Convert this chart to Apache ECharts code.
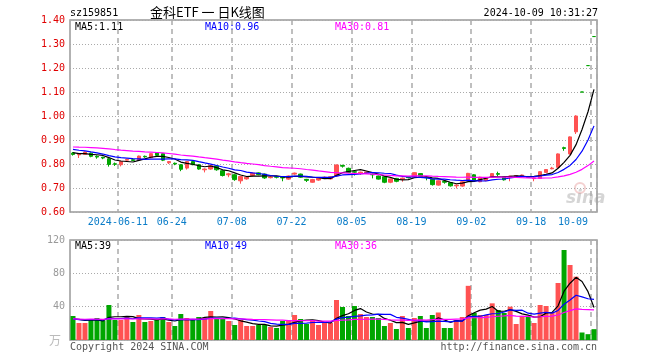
<!DOCTYPE html>
<html><head><meta charset="utf-8">
<script src="https://cdn.jsdelivr.net/npm/echarts@6/dist/echarts.min.js"></script>
<style>html,body{margin:0;padding:0;background:#fff}#c{width:660px;height:360px}</style>
</head><body><div id="c"></div>
<script>
// ---------- data ----------
const dates = [
'2024-05-29','2024-05-30','2024-05-31',
'2024-06-03','2024-06-04','2024-06-05','2024-06-06','2024-06-07','2024-06-11','2024-06-12','2024-06-13','2024-06-14',
'2024-06-17','2024-06-18','2024-06-19','2024-06-20','2024-06-21','2024-06-24','2024-06-25','2024-06-26','2024-06-27','2024-06-28',
'2024-07-01','2024-07-02','2024-07-03','2024-07-04','2024-07-05','2024-07-08','2024-07-09','2024-07-10','2024-07-11','2024-07-12',
'2024-07-15','2024-07-16','2024-07-17','2024-07-18','2024-07-19','2024-07-22','2024-07-23','2024-07-24','2024-07-25','2024-07-26',
'2024-07-29','2024-07-30','2024-07-31','2024-08-01','2024-08-02','2024-08-05','2024-08-06','2024-08-07','2024-08-08','2024-08-09',
'2024-08-12','2024-08-13','2024-08-14','2024-08-15','2024-08-16','2024-08-19','2024-08-20','2024-08-21','2024-08-22','2024-08-23',
'2024-08-26','2024-08-27','2024-08-28','2024-08-29','2024-08-30','2024-09-02','2024-09-03','2024-09-04','2024-09-05','2024-09-06',
'2024-09-09','2024-09-10','2024-09-11','2024-09-12','2024-09-13','2024-09-18','2024-09-19','2024-09-20','2024-09-23','2024-09-24',
'2024-09-25','2024-09-26','2024-09-27','2024-09-30','2024-10-08','2024-10-09'];

const opens = [0.845,0.838,0.840,0.845,0.832,0.828,0.822,0.801,0.797,0.816,0.818,0.817,0.832,0.826,0.847,0.843,0.805,0.803,0.797,0.783,0.810,0.797,0.776,0.779,0.792,0.772,0.755,0.755,0.730,0.738,0.752,0.763,0.758,0.743,0.747,0.745,0.737,0.758,0.758,0.736,0.724,0.733,0.742,0.738,
0.750,0.794,0.782,0.768,0.763,0.763,0.757,0.750,0.747,0.724,0.740,0.737,0.746,0.745,0.760,0.745,0.736,0.712,0.727,0.722,0.709,0.708,0.730,0.755,0.726,0.731,0.745,0.760,0.747,0.745,0.749,0.751,0.748,0.739,0.740,0.765,0.780,0.786,0.868,0.842,0.934,1.100,1.210,1.331];
const closes = [0.840,0.842,0.850,0.832,0.829,0.825,0.798,0.799,0.811,0.819,0.815,0.833,0.830,0.843,0.836,0.816,0.810,0.800,0.778,0.810,0.797,0.779,0.779,0.793,0.776,0.752,0.759,0.735,0.748,0.745,0.762,0.756,0.742,0.746,0.745,0.742,0.750,0.762,0.745,0.732,0.735,0.740,0.745,0.747,
0.796,0.791,0.765,0.766,0.766,0.767,0.755,0.737,0.724,0.738,0.728,0.741,0.743,0.764,0.748,0.743,0.714,0.730,0.724,0.709,0.712,0.726,0.761,0.731,0.745,0.740,0.760,0.757,0.734,0.750,0.752,0.754,0.744,0.742,0.768,0.777,0.783,0.842,0.865,0.913,1.000,1.100,1.210,1.331];
const lows = [0.835,0.825,0.838,0.828,0.822,0.820,0.789,0.792,0.790,0.814,0.812,0.815,0.826,0.824,0.833,0.812,0.800,0.795,0.770,0.777,0.795,0.776,0.765,0.776,0.772,0.748,0.745,0.730,0.718,0.735,0.748,0.753,0.738,0.740,0.740,0.728,0.734,0.755,0.742,0.725,0.722,0.730,0.738,0.735,
0.748,0.785,0.762,0.752,0.755,0.760,0.740,0.735,0.720,0.720,0.724,0.726,0.740,0.742,0.745,0.732,0.710,0.710,0.718,0.706,0.698,0.705,0.728,0.728,0.724,0.728,0.743,0.748,0.731,0.728,0.747,0.745,0.742,0.728,0.738,0.763,0.778,0.784,0.855,0.840,0.925,1.100,1.210,1.331];
const highs = [0.850,0.845,0.852,0.848,0.836,0.830,0.824,0.806,0.813,0.822,0.820,0.835,0.835,0.845,0.850,0.846,0.812,0.806,0.799,0.812,0.812,0.800,0.782,0.796,0.795,0.774,0.763,0.758,0.750,0.748,0.764,0.765,0.760,0.750,0.750,0.747,0.752,0.764,0.760,0.738,0.738,0.742,0.748,0.749,
0.798,0.797,0.785,0.772,0.768,0.769,0.760,0.752,0.750,0.740,0.742,0.744,0.748,0.766,0.762,0.748,0.738,0.732,0.730,0.724,0.715,0.728,0.763,0.758,0.747,0.742,0.762,0.768,0.749,0.752,0.754,0.756,0.750,0.744,0.770,0.779,0.788,0.844,0.872,0.915,1.003,1.100,1.210,1.331];
// volume, 万
const volumes = [28.8,20.4,20.4,24,26.4,23.2,42,24,24,28.8,21.6,30,21.6,22.8,25.2,27.6,21.6,16.8,31.2,26.4,24,27.6,26.4,34.8,25.2,25.2,22.8,18,24,16.8,16.8,18,18,15.6,14.4,22.8,22.8,30,25.2,19.2,24,18,20.4,20.4,
48,39.6,28.8,40.8,31.2,27.6,27.6,26.4,16.8,20.4,13.2,28.8,14.4,26.4,28.8,14.4,30,33,14.4,14.4,24,27.6,65,32.4,30,30,44,36,32.4,40,19.2,29,29,20.4,42,40.8,33.6,68.4,108,90,76,9,7,13];
// history before the visible window (used only for the moving averages)
const priorCloses = [0.862,0.866,0.870,0.872,0.868,0.875,0.880,0.884,0.878,0.872,0.876,0.882,0.886,0.880,0.874,0.878,0.884,0.880,0.876,0.872,0.880,0.874,0.878,0.872,0.870,0.862,0.852,0.845,0.838];
const priorVolumes = [24,28,22,26,30,25,21,27,24,29,23,26,25,28,22,24,27,25,23,26,28,24,22,25,27,24,26,23,25];
// tick labels on the time axis
const labelDates = ['2024-06-11','2024-06-24','2024-07-08','2024-07-22','2024-08-05','2024-08-19','2024-09-02','2024-09-18','2024-10-09'];
const priceTicks = [0.6, 1.4, 0.1];   // min, max, step
const volTicks = [0, 120, 40];

// ---------- derived ----------
function movingAvg(vals, prior, n) {
  const all = prior.concat(vals), off = prior.length;
  return vals.map((_, i) => { let s = 0; for (let k = 0; k < n; k++) s += all[off + i - k]; return +(s / n).toFixed(4); });
}
const ma5 = movingAvg(closes, priorCloses, 5), ma10 = movingAvg(closes, priorCloses, 10), ma30 = movingAvg(closes, priorCloses, 30);
const vma5 = movingAvg(volumes, priorVolumes, 5), vma10 = movingAvg(volumes, priorVolumes, 10), vma30 = movingAvg(volumes, priorVolumes, 30);
const last = dates.length - 1;

const UP = '#ff5252', DOWN = '#00a600';
const mono = 'DejaVu Sans Mono';
const labelIdx = labelDates.map(d => dates.indexOf(d));
const showIdx = i => labelIdx.indexOf(i) >= 0;
const candleData = dates.map((d, i) => {
  const it = { value: [opens[i], closes[i], lows[i], highs[i]] };
  if (opens[i] === closes[i]) it.itemStyle = { color: DOWN, color0: DOWN, borderColor: DOWN, borderColor0: DOWN };
  return it;
});
const volColor = dates.map((d, i) => closes[i] > opens[i] ? UP : DOWN);

function makeX(gi, showLabel) {
  return {
    type: 'category', gridIndex: gi, data: dates, boundaryGap: true,
    axisLine: { show: false }, axisTick: { show: false },
    axisLabel: { show: showLabel, interval: (i) => showIdx(i),
      formatter: (v, i) => (v === labelDates[0] ? v : v.slice(5)),
      color: '#0a7cc8', fontFamily: mono, fontSize: 10, margin: 5, padding: [0, 6, 0, 0], alignMaxLabel: 'right' },
    splitLine: { show: true, interval: (i) => showIdx(i), lineStyle: { color: '#aaa', type: [5, 4], width: 1.5 } }
  };
}
function line(name, data, color, xi) {
  return { type: 'line', name, data, xAxisIndex: xi, yAxisIndex: xi, symbol: 'none', showSymbol: false,
    lineStyle: { color, width: 1.2 }, itemStyle: { color }, z: 5, silent: true };
}
function txt(x, y, text, fill, opts) {
  return Object.assign({ type: 'text', x, y, silent: true,
    style: Object.assign({ text, fill, font: '10px "' + mono + '"', verticalAlign: 'middle', align: 'left' }, opts || {}) });
}

const chart = echarts.init(document.getElementById('c'), null, { renderer: 'canvas' });
chart.setOption({
  animation: false,
  backgroundColor: '#fff',
  grid: [
    { left: 70, right: 63, top: 20, height: 192, show: true, borderColor: '#999', borderWidth: 1.5, outerBoundsMode: 'none' },
    { left: 70, right: 63, top: 240, height: 100, show: true, borderColor: '#999', borderWidth: 1.5, outerBoundsMode: 'none' }
  ],
  xAxis: [makeX(0, true), makeX(1, false)],
  yAxis: [
    { type: 'value', gridIndex: 0, min: priceTicks[0], max: priceTicks[1], interval: priceTicks[2],
      axisLine: { show: false }, axisTick: { show: false },
      axisLabel: { color: '#e00000', fontFamily: mono, fontSize: 10, margin: 5, formatter: v => v.toFixed(2) },
      splitLine: { lineStyle: { color: '#aaa', type: [1, 2], width: 1 } } },
    { type: 'value', gridIndex: 1, min: volTicks[0], max: volTicks[1], interval: volTicks[2],
      axisLine: { show: false }, axisTick: { show: false },
      axisLabel: { color: '#999', fontFamily: mono, fontSize: 10, margin: 5, formatter: v => (v === 0 ? '' : String(v)) },
      splitLine: { lineStyle: { color: '#aaa', type: [1, 2], width: 1 } } }
  ],
  series: [
    { type: 'candlestick', xAxisIndex: 0, yAxisIndex: 0, data: candleData, barWidth: 4,
      itemStyle: { color: UP, color0: DOWN, borderColor: UP, borderColor0: DOWN, borderWidth: 1 } },
    line('MA5', ma5, '#000000', 0), line('MA10', ma10, '#0000ff', 0), line('MA30', ma30, '#ff00ff', 0),
    { type: 'bar', xAxisIndex: 1, yAxisIndex: 1, data: volumes, barWidth: 5,
      itemStyle: { color: p => volColor[p.dataIndex] } },
    line('VMA5', vma5, '#000000', 1), line('VMA10', vma10, '#0000ff', 1), line('VMA30', vma30, '#ff00ff', 1)
  ],
  graphic: [
    txt(70, 13, 'sz159851', '#000'),
    txt(150, 12, '金科ETF 一 日K线图', '#000', { font: '13px "Noto Sans CJK SC"' }),
    txt(598, 13, '2024-10-09 10:31:27', '#000', { align: 'right' }),
    txt(75, 27, 'MA5:' + ma5[last].toFixed(2), '#000'),
    txt(205, 27, 'MA10:' + ma10[last].toFixed(2), '#0000ff'),
    txt(335, 27, 'MA30:' + ma30[last].toFixed(2), '#ff00ff'),
    txt(75, 246, 'MA5:' + Math.round(vma5[last]), '#000'),
    txt(205, 246, 'MA10:' + Math.round(vma10[last]), '#0000ff'),
    txt(335, 246, 'MA30:' + Math.round(vma30[last]), '#ff00ff'),
    txt(49, 340, '万', '#bbb', { font: '12px "Noto Sans CJK SC"' }),
    txt(70, 347, 'Copyright 2024 SINA.COM', '#555'),
    txt(597, 347, 'http://finance.sina.com.cn', '#555', { align: 'right' }),
    { type: 'circle', shape: { cx: 580, cy: 188, r: 5 }, silent: true, style: { fill: 'none', stroke: 'rgba(220,120,120,0.35)', lineWidth: 2 } },
    txt(566, 199, 'sina', 'rgba(150,150,150,0.4)', { font: 'italic bold 17px "DejaVu Sans"' })
  ]
});
</script></body></html>
